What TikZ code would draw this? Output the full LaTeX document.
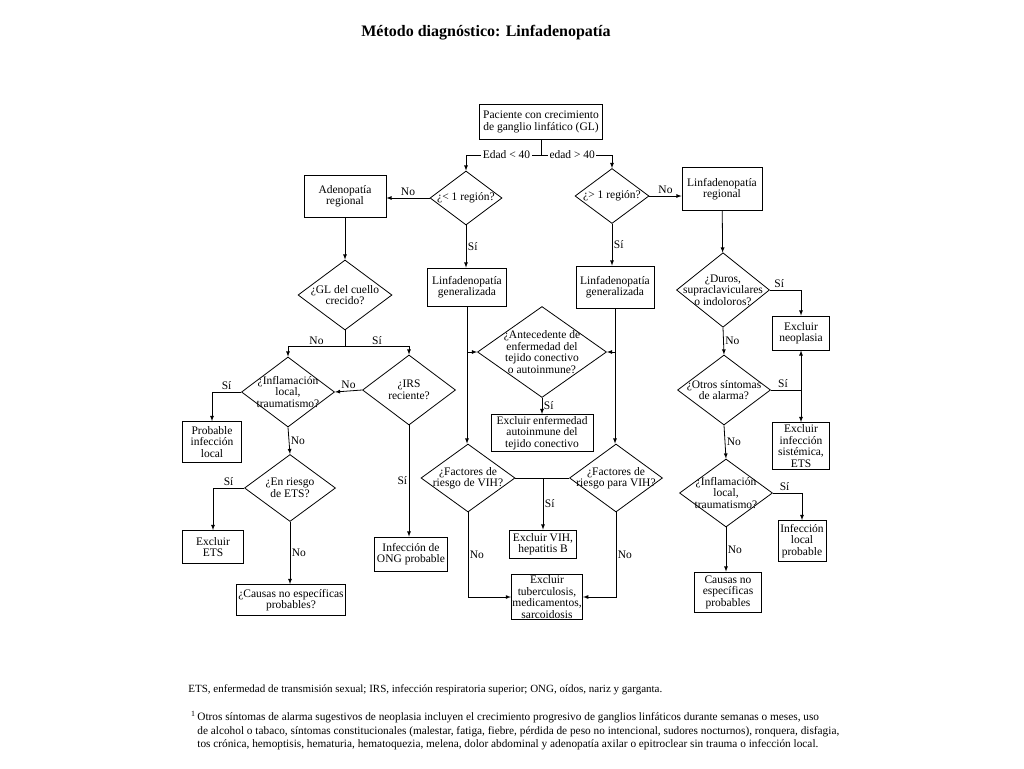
\documentclass[tikz,border=0pt]{standalone}
\usepackage{fontspec}
\setmainfont{Liberation Serif}
\usetikzlibrary{shapes,arrows,positioning,calc}

\begin{document}
\begin{tikzpicture}[x=1pt, y=-1pt, >=latex, line width=0.8pt,
    font=\fontsize{11.5}{11.5}\selectfont,
    box/.style={draw, align=center, inner sep=1pt},
    dia/.style={draw, diamond, align=center, inner sep=-9pt},
    lbl/.style={inner sep=1.5pt}]
    \useasboundingbox (0,0) rectangle (1024,768);

    \node [font=\fontsize{16}{18}\selectfont\bfseries] (title) at (486,33) {Método diagnóstico: Linfadenopatía};

    % top of the chart
    \node [box, minimum width=123pt, minimum height=35pt] (start) at (541,122) {Paciente con crecimiento\\de ganglio linfático (GL)};
    \node [dia, minimum width=72pt, minimum height=54pt] (r1) at (466,198) {¿< 1 región?};
    \node [dia, minimum width=74pt, minimum height=55pt] (r2) at (612,196) {¿> 1 región?};
    \node [box, minimum width=82pt, minimum height=42pt] (adreg) at (345,196) {Adenopatía\\regional};
    \node [box, minimum width=80pt, minimum height=43pt] (lreg) at (722,189) {Linfadenopatía\\regional};
    \node [box, minimum width=79pt, minimum height=38pt] (gen1) at (467,287) {Linfadenopatía\\generalizada};
    \node [box, minimum width=78pt, minimum height=42pt] (gen2) at (615,287) {Linfadenopatía\\generalizada};

    % left branch
    \node [dia, minimum width=94pt, minimum height=70pt] (gl) at (345,295) {¿GL del cuello\\crecido?};
    \node [dia, minimum width=93pt, minimum height=70pt] (inf1) at (288,392) {¿Inflamación\\local,\\traumatismo?};
    \node [dia, minimum width=93pt, minimum height=70pt] (irs) at (409,390) {¿IRS\\reciente?};
    \node [box, minimum width=59pt, minimum height=41pt] (plo) at (212,442) {Probable\\infección\\local};
    \node [dia, minimum width=91pt, minimum height=67pt] (ets) at (290,488) {¿En riesgo\\de ETS?};
    \node [box, minimum width=61pt, minimum height=33pt] (exets) at (213,547) {Excluir\\ETS};
    \node [box, minimum width=109pt, minimum height=31pt] (cau1) at (291,600) {¿Causas no específicas\\probables?};
    \node [box, minimum width=73pt, minimum height=34pt] (ong) at (411,554) {Infección de\\ONG probable};

    % middle
    \node [dia, minimum width=129pt, minimum height=91pt] (ant) at (542,352) {¿Antecedente de\\enfermedad del\\tejido conectivo\\o autoinmune?};
    \node [box, minimum width=102pt, minimum height=37pt] (exai) at (542,433) {Excluir enfermedad\\autoinmune del\\tejido conectivo};
    \node [dia, minimum width=94pt, minimum height=68pt] (vih1) at (468,478) {¿Factores de\\riesgo de VIH?};
    \node [dia, minimum width=93pt, minimum height=68pt] (vih2) at (616,478) {¿Factores de\\riesgo para VIH?};
    \node [box, minimum width=67pt, minimum height=28pt] (exvih) at (543,544) {Excluir VIH,\\hepatitis B};
    \node [box, minimum width=70pt, minimum height=45pt] (extb) at (547,597) {Excluir\\tuberculosis,\\medicamentos,\\sarcoidosis};

    % right branch
    \node [dia, minimum width=93pt, minimum height=67pt] (duros) at (723,290) {¿Duros,\\supraclaviculares\\o indoloros?};
    \node [box, minimum width=57pt, minimum height=34pt] (neo) at (801,333) {Excluir\\neoplasia};
    \node [dia, minimum width=93pt, minimum height=70pt] (otros) at (724,390) {¿Otros síntomas\\de alarma?};
    \node [box, minimum width=57pt, minimum height=47pt] (sis) at (801,446) {Excluir\\infección\\sistémica,\\ETS};
    \node [dia, minimum width=93pt, minimum height=68pt] (inf2) at (726,493) {¿Inflamación\\local,\\traumatismo?};
    \node [box, minimum width=48pt, minimum height=41pt] (lp) at (802,541) {Infección\\local\\probable};
    \node [box, minimum width=67pt, minimum height=40pt] (cau2) at (728,592) {Causas no\\específicas\\probables};

    % connectors
    \coordinate (split) at ([yshift=-15pt]start.south);
    \draw (start.south) -- (split);
    \draw [->] (split) -- node [lbl, fill=white, pos=0.46] {Edad < 40} (split -| r1.north) -- (r1.north);
    \draw [->] (split) -- node [lbl, fill=white, pos=0.44] {edad > 40} (split -| r2.north) -- (r2.north);
    \draw [->] (r1.west) -- node [lbl, above] {No} (r1.west -| adreg.east);
    \draw [->] (r1.south) -- node [lbl, right] {Sí} (r1.south |- gen1.north);
    \draw [->] (r2.east) -- node [lbl, above] {No} (r2.east -| lreg.west);
    \draw [->] (r2.south) -- node [lbl, right] {Sí} (r2.south |- gen2.north);

    \draw [->] (adreg) -- (gl);
    \coordinate (glj) at ([yshift=-16pt]gl.south);
    \draw (gl.south) -- (glj);
    \draw [->] (glj) -- node [lbl, above] {No} (glj -| inf1.north) -- (inf1.north);
    \draw [->] (glj) -- node [lbl, above] {Sí} (glj -| irs.north) -- (irs.north);
    \draw [->] (irs.west) -- node [lbl, above] {No} (inf1.east);
    \draw [->] (irs.south) -- node [lbl, left] {Sí} (irs.south |- ong.north);
    \draw [->] (inf1.west) -- node [lbl, above] {Sí} (inf1.west -| plo.north) -- (plo.north);
    \draw [->] (inf1.south) -- node [lbl, right] {No} (ets.north);
    \draw [->] (ets.west) -- node [lbl, above] {Sí} (ets.west -| exets.north) -- (exets.north);
    \draw [->] (ets.south) -- node [lbl, right] {No} (ets.south |- cau1.north);

    \draw [->] (gen1.south) -- (gen1.south |- vih1.north);
    \draw [->] (gen2.south) -- (gen2.south |- vih2.north);
    \draw [->] (gen1.south |- ant.west) -- (ant.west);
    \draw [->] (gen2.south |- ant.east) -- (ant.east);
    \draw [->] (ant.south) -- node [lbl, right] {Sí} (ant.south |- exai.north);
    \draw (vih1.east) -- (vih2.west);
    \draw [->] (vih1.east -| exvih.north) -- node [lbl, right] {Sí} (exvih.north);
    \draw [->] (vih1.south) -- node [lbl, right] {No} (vih1.south |- extb.west) -- (extb.west);
    \draw [->] (vih2.south) -- node [lbl, right] {No} (vih2.south |- extb.east) -- (extb.east);

    \draw [->] (lreg) -- (duros);
    \draw [->] (duros.east) -- node [lbl, above, pos=0.3] {Sí} (duros.east -| neo.north) -- (neo.north);
    \draw [->] (duros.south) -- node [lbl, right] {No} (otros.north);
    \coordinate (oj) at (otros.east -| neo.south);
    \draw (otros.east) -- node [lbl, above, pos=0.4] {Sí} (oj);
    \draw [->] (oj) -- (neo.south);
    \draw [->] (oj) -- (sis.north);
    \draw [->] (otros.south) -- node [lbl, right] {No} (inf2.north);
    \draw [->] (inf2.east) -- node [lbl, above, pos=0.4] {Sí} (inf2.east -| lp.north) -- (lp.north);
    \draw [->] (inf2.south) -- node [lbl, right] {No} (inf2.south |- cau2.north);

    % notes
    \node [anchor=west, inner sep=0pt, font=\fontsize{11}{13}\selectfont] (abbr) at (188,690) {ETS, enfermedad de transmisión sexual; IRS, infección respiratoria superior; ONG, oídos, nariz y garganta.};
    \node [anchor=north west, align=left, inner sep=0pt, font=\fontsize{11.3}{13.5}\selectfont] (note) at (197,711) {\llap{\textsuperscript{1}\,}Otros síntomas de alarma sugestivos de neoplasia incluyen el crecimiento progresivo de ganglios linfáticos durante semanas o meses, uso\\de alcohol o tabaco, síntomas constitucionales (malestar, fatiga, fiebre, pérdida de peso no intencional, sudores nocturnos), ronquera, disfagia,\\tos crónica, hemoptisis, hematuria, hematoquezia, melena, dolor abdominal y adenopatía axilar o epitroclear sin trauma o infección local.};
\end{tikzpicture}
\end{document}
